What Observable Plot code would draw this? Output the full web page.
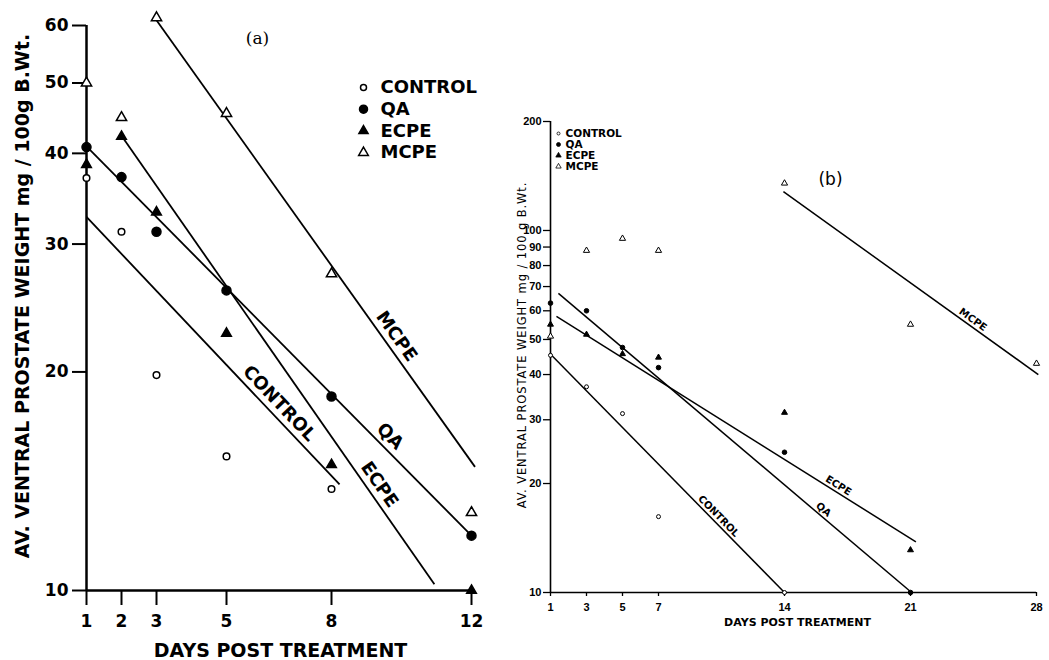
<!DOCTYPE html>
<html><head><meta charset="utf-8">
<script src="https://cdn.jsdelivr.net/npm/d3@7"></script>
<script src="https://cdn.jsdelivr.net/npm/@observablehq/plot@0.6"></script>
<style>
body{margin:0;background:#fff;}
#wrap{position:relative;width:1049px;height:660px;background:#fff;overflow:hidden;}
#wrap svg{position:absolute;top:0;overflow:visible;}
</style></head><body><div id="wrap"></div>
<script>
// ---------- Panel (a) data ----------
const seriesNames = ["CONTROL", "QA", "ECPE", "MCPE"];
const daysA = [1, 2, 3, 5, 8, 12];
const controlA = [37, 31.2, 19.8, 15.3, 13.8, null];
const qaA = [40.8, 37.1, 31.2, 25.9, 18.5, 11.9];
const ecpeA = [38.6, 42.2, 33.2, 22.6, 14.9, 10];
const mcpeA = [50, 44.8, 61.5, 45.4, 27.3, 12.8];
const xTicksA = [1, 2, 3, 5, 8, 12];
const yTicksA = [10, 20, 30, 40, 50, 60];
// fitted regression lines (a): start / end in data units
const fitA_x1 = [1, 1, 2.03, 3.0];
const fitA_y1 = [32.7, 40.9, 42.1, 61];
const fitA_x2 = [8.23, 12, 10.94, 12.1];
const fitA_y2 = [14.0, 11.9, 10.2, 14.8];
const labelA_day = [6.26, 9.43, 9.09, 9.58];

// ---------- Panel (b) data ----------
const daysB = [1, 3, 5, 7, 14, 21, 28];
const controlB = [45.2, 37, 31.2, 16.2, 10, null, null];
const qaB = [63, 60, 47.5, 41.8, 24.4, 10, null];
const ecpeB = [55, 51.6, 45.6, 44.6, 31.4, 13.1, null];
const mcpeB = [51, 88, 95, 88, 135, 55, 42.9];
const xTicksB = [1, 3, 5, 7, 14, 21, 28];
const yTicksB = [10, 20, 30, 40, 50, 60, 70, 80, 90, 100, 200];
const fitB_x1 = [1.06, 1.44, 1.33, 13.94];
const fitB_y1 = [45.2, 67, 57.9, 128];
const fitB_x2 = [14, 21.06, 21.3, 28.1];
const fitB_y2 = [10, 10, 13.8, 40];
const labelB_day = [10.08, 15.94, 16.81, 24.26];

const yTitleA = "AV. VENTRAL PROSTATE WEIGHT mg / 100g B.Wt.";
const yTitleB = "AV. VENTRAL PROSTATE WEIGHT mg / 100 g B.Wt.";
const xTitle = "DAYS POST TREATMENT";

// ---------- helpers ----------
const symStyle = {
  CONTROL: {symbol: "circle", fill: "white", stroke: "black"},
  QA: {symbol: "circle", fill: "black", stroke: "black"},
  ECPE: {symbol: "triangle", fill: "black", stroke: "black"},
  MCPE: {symbol: "triangle", fill: "white", stroke: "black"}
};
function pointsTable(days, lists) {
  const rows = [];
  seriesNames.forEach((s, k) => lists[k].forEach((v, i) => {
    if (v != null) rows.push({series: s, day: days[i], value: v});
  }));
  return rows;
}
function fitsTable(x1, y1, x2, y2) {
  return seriesNames.map((s, i) => ({series: s, x1: x1[i], y1: y1[i], x2: x2[i], y2: y2[i]}));
}
function labelPoint(f, day) {
  const t = (day - f.x1) / (f.x2 - f.x1);
  return {series: f.series, day, value: Math.exp(Math.log(f.y1) + t * (Math.log(f.y2) - Math.log(f.y1)))};
}

const ptsA = pointsTable(daysA, [controlA, qaA, ecpeA, mcpeA]);
const ptsB = pointsTable(daysB, [controlB, qaB, ecpeB, mcpeB]);
const fitsA = fitsTable(fitA_x1, fitA_y1, fitA_x2, fitA_y2);
const fitsB = fitsTable(fitB_x1, fitB_y1, fitB_x2, fitB_y2);
const labsA = fitsA.map((f, i) => labelPoint(f, labelA_day[i]));
const labsB = fitsB.map((f, i) => labelPoint(f, labelB_day[i]));

const C = {textAnchor: "middle", lineAnchor: "middle", fill: "black"};

function lineLabels(labs, angles, off, fontSize) {
  return labs.map((d, i) => {
    const th = angles[i] * Math.PI / 180;
    return Plot.text([d], {x: "day", y: "value", text: "series", rotate: angles[i],
      dx: off * Math.sin(th), dy: -off * Math.cos(th), ...C,
      fontSize, fontWeight: "bold"});
  });
}
function dotMarks(pts, radii, sw) {
  return seriesNames.map((s, i) => Plot.dot(pts.filter(d => d.series === s), {
    x: "day", y: "value", ...symStyle[s], r: radii[i], strokeWidth: sw}));
}
function legendMarks(sx, tx, y0, step, radii, fontSize, sw) {
  return seriesNames.flatMap((s, i) => [
    Plot.dot([s], {frameAnchor: "top-left", dx: sx, dy: y0 + i * step, ...symStyle[s], r: radii[i], strokeWidth: sw}),
    Plot.text([s], {frameAnchor: "top-left", dx: tx, dy: y0 + i * step, textAnchor: "start", lineAnchor: "middle",
      fontSize, fontWeight: "bold", fill: "black"})
  ]);
}

// ---------- Panel (a) ----------
const plotA = Plot.plot({
  width: 505, height: 660,
  marginLeft: 86, marginRight: 34, marginTop: 25, marginBottom: 70,
  style: {overflow: "visible", fontFamily: "DejaVu Sans", color: "black", background: "transparent"},
  x: {type: "linear", domain: [1, 12]},
  y: {type: "log", domain: [10, 60]},
  marks: [
    Plot.ruleX([1], {strokeWidth: 2.5}),
    Plot.ruleY([10], {strokeWidth: 2.5}),
    Plot.axisY(yTicksA, {tickSize: 14, tickPadding: 4, tickFormat: d => String(d), fontSize: 17,
      fontWeight: "bold", strokeWidth: 2, label: null}),
    Plot.axisX(xTicksA, {tickSize: 15, tickPadding: 9, tickFormat: d => String(d), fontSize: 17,
      fontWeight: "bold", strokeWidth: 2, label: null}),
    Plot.link(fitsA, {x1: "x1", y1: "y1", x2: "x2", y2: "y2", stroke: "black", strokeWidth: 1.8}),
    ...dotMarks(ptsA, [3.3, 4.5, 3.6, 3.8], 1.5),
    ...lineLabels(labsA, [46.6, 45.3, 55.1, 54.6], 12, 18),
    ...legendMarks(277, 294, 62, 21.7, [3, 4, 3.4, 3.6], 18, 1.5),
    Plot.text(["(a)"], {frameAnchor: "top-left", dx: 171, dy: 13, ...C, fontSize: 17, fontFamily: "DejaVu Serif"}),
    Plot.text([yTitleA], {frameAnchor: "left", rotate: -90, dx: -64, dy: -12,
      ...C, fontSize: 19, fontWeight: "bold"}),
    Plot.text([xTitle], {frameAnchor: "bottom", dx: 1.5, dy: 60, ...C, fontSize: 19, fontWeight: "bold"})
  ]
});

// ---------- Panel (b) ----------
const plotB = Plot.plot({
  width: 554, height: 660,
  marginLeft: 55, marginRight: 13, marginTop: 121, marginBottom: 68,
  style: {overflow: "visible", fontFamily: "DejaVu Sans", color: "black", background: "transparent"},
  x: {type: "linear", domain: [1, 28]},
  y: {type: "log", domain: [10, 200]},
  marks: [
    Plot.ruleX([1], {strokeWidth: 1.6}),
    Plot.ruleY([10], {strokeWidth: 1.6}),
    Plot.axisY(yTicksB, {tickSize: 7, tickPadding: 2, tickFormat: d => String(d), fontSize: 11,
      fontFamily: "Liberation Sans", fontWeight: "bold", strokeWidth: 1.3, label: null}),
    Plot.axisX(xTicksB, {tickSize: 4, tickPadding: 7, tickFormat: d => String(d), fontSize: 11,
      fontFamily: "Liberation Sans", fontWeight: "bold", strokeWidth: 1.3, label: null}),
    Plot.link(fitsB, {x1: "x1", y1: "y1", x2: "x2", y2: "y2", stroke: "black", strokeWidth: 1.5}),
    ...dotMarks(ptsB, [2, 2.3, 2.2, 2.3], 1),
    ...lineLabels(labsB, [45.7, 40.3, 32, 35.7], 6.5, 10),
    ...legendMarks(8, 15, 12, 11, [1.5, 2, 2, 2], 10.5, 0.8),
    Plot.text(["(b)"], {frameAnchor: "top-left", dx: 280, dy: 58, ...C, fontSize: 17}),
    Plot.text([yTitleB], {frameAnchor: "left", rotate: -90, dx: -28, dy: -12,
      ...C, fontSize: 11.5}),
    Plot.text([xTitle], {frameAnchor: "bottom", dx: 4, dy: 30, ...C, fontSize: 11, fontWeight: "bold"})
  ]
});

// spread the small rotated title of panel (b) like the original lettering
plotB.querySelectorAll("text").forEach(t => {
  if (t.textContent === yTitleB) t.style.letterSpacing = "0.9px";
});

const wrap = document.getElementById("wrap");
plotA.style.left = "0px";
plotB.style.left = "495px";
wrap.appendChild(plotA);
wrap.appendChild(plotB);
</script>
</body></html>
